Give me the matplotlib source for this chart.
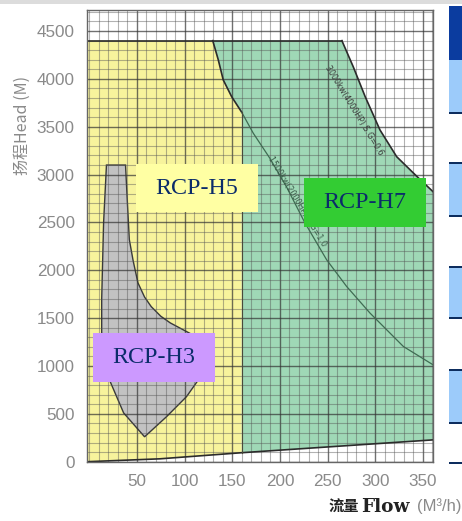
import matplotlib
matplotlib.use('Agg')
import matplotlib.pyplot as plt
from matplotlib.patches import Rectangle, Polygon
from matplotlib.ticker import MultipleLocator

plt.rcParams['font.family'] = ['Liberation Sans', 'Noto Sans CJK SC', 'DejaVu Sans']

W, H = 462, 521

# ---------------- data ----------------
x_ticks = [50, 100, 150, 200, 250, 300, 350]
y_ticks = [0, 500, 1000, 1500, 2000, 2500, 3000, 3500, 4000, 4500]
XMIN, XMAX = -2.1, 360.6
YMIN, YMAX = 0, 4720

head_limit = 4400          # max head of H5 / H7
h5_flow_max = 160          # boundary between H5 and H7

# lower boundary (min head line)
bottom_flow = [XMIN, 74, 160, XMAX]
bottom_head = [0, 30, 94, 228]

# 1500kW(2000HP) S.G=1.0 power line
c1500_flow = [129.5, 135.3, 140.5, 149.3, 160, 172, 189.5, 207, 226, 249, 270, 294.5, 329.5, XMAX]
c1500_head = [4400, 4200, 3990, 3815, 3650, 3433, 3170, 2870, 2500, 2110, 1831, 1553, 1204, 1013]

# 3000kW(4000HP) S.G=0.6 power line
c3000_flow = [265, 277, 289.5, 305, 322.5, 344, XMAX]
c3000_head = [4400, 4125, 3813, 3466, 3187, 2978, 2822]

# RCP-H3 envelope (closed outline)
h3_flow = [18, 38, 40, 42, 46, 51, 58, 65, 75, 85, 102, 115, 124, 120, 113, 102, 81, 58,
           36, 22, 16, 13, 13, 14, 15]
h3_head = [3100, 3100, 2700, 2320, 2100, 1870, 1720, 1620, 1520, 1450, 1360, 1290, 1180, 1000,
           835, 680, 470, 260, 510, 835, 1100, 1350, 1700, 2100, 2500]

# model labels: name, box (x0, x1, y0, y1) in data units, colour
labels = ['RCP-H5', 'RCP-H7', 'RCP-H3']
label_boxes = [(49, 177, 2606, 3109), (225, 353, 2456, 2961), (4, 132, 836, 1342)]
label_colors = ['#ffffa3', '#33cc33', '#cc99ff']

# ---------------- figure ----------------
fig = plt.figure(figsize=(W / 100, H / 100), dpi=100)
fig.patch.set_facecolor('white')
ax = fig.add_axes([87.3 / W, 1 - 461.7 / H, (433 - 87.3) / W, (461.7 - 10) / H])
ax.set_xlim(XMIN, XMAX)
ax.set_ylim(YMIN, YMAX)

# regions
yellow = list(zip(bottom_flow[:3], bottom_head[:3]))
yellow += [(c1500_flow[i], c1500_head[i]) for i in range(4, -1, -1)]
yellow += [(XMIN, head_limit)]
ax.add_patch(Polygon(yellow, closed=True, facecolor='#f7f39c', edgecolor='none', zorder=1))

green = [(bottom_flow[2], bottom_head[2]), (bottom_flow[3], bottom_head[3])]
green += [(c3000_flow[i], c3000_head[i]) for i in range(len(c3000_flow) - 1, -1, -1)]
green += [(c1500_flow[i], c1500_head[i]) for i in range(0, 5)]
ax.add_patch(Polygon(green, closed=True, facecolor='#9fd8b6', edgecolor='none', zorder=1))

ax.add_patch(Polygon(list(zip(h3_flow, h3_head)), closed=True, facecolor='#c2c2c2',
                     edgecolor='#3a3a3a', linewidth=1.0, zorder=1.5))

# boundary lines
ax.plot(bottom_flow, bottom_head, color='#2b2b2b', lw=1.2, zorder=3)
ax.plot([XMIN, c3000_flow[0]], [head_limit, head_limit], color='#2b2b2b', lw=1.2, zorder=3)
ax.plot(c1500_flow[:5], c1500_head[:5], color='#2b2b2b', lw=1.2, zorder=3)
ax.plot(c1500_flow[4:], c1500_head[4:], color='#3f6b52', lw=0.9, zorder=3)
ax.plot(c3000_flow, c3000_head, color='#2b2b2b', lw=1.2, zorder=3)
ax.plot([h5_flow_max, h5_flow_max], [bottom_head[2], c1500_head[4]], color='#4a4a3a', lw=0.8, zorder=3)

# curve annotations
ax.text(278, 3670, '3000kw(4000HP) S.G=0.6', rotation=-58.5, rotation_mode='anchor',
        ha='center', va='center', fontsize=5.8, color='#3a3a3a', family='DejaVu Sans', zorder=3)
ax.text(218, 2720, '1500kw(2000HP) S.G=1.0', rotation=-58.5, rotation_mode='anchor',
        ha='center', va='center', fontsize=5.8, color='#3a5a48', family='DejaVu Sans', zorder=3)

# grid
ax.xaxis.set_minor_locator(MultipleLocator(10))
ax.yaxis.set_minor_locator(MultipleLocator(100))
ax.set_xticks(x_ticks)
ax.set_yticks(y_ticks)
ax.grid(which='minor', color='#555555', alpha=0.45, lw=0.8, zorder=2)
ax.grid(which='major', color='#333333', alpha=0.7, lw=1.0, zorder=2)
ax.set_axisbelow(False)
for gl in ax.get_xgridlines() + ax.get_ygridlines():
    gl.set_zorder(2)
ax.tick_params(which='both', length=0)
ax.tick_params(axis='x', pad=9, labelsize=12.3, labelcolor='#8a8a8a')
ax.tick_params(axis='y', pad=9, labelsize=12.3, labelcolor='#8a8a8a')
for s in ax.spines.values():
    s.set_color('#666666')
    s.set_linewidth(1.0)
    s.set_zorder(6)

# model label boxes
for name, (x0, x1, y0, y1), col in zip(labels, label_boxes, label_colors):
    ax.add_patch(Rectangle((x0, y0), x1 - x0, y1 - y0, facecolor=col, edgecolor='none', zorder=4))
    ax.text((x0 + x1) / 2, (y0 + y1) / 2, name, ha='center', va='center', fontsize=17.3,
            family='Liberation Serif', color='#0b2c6a', zorder=5)

# axis titles
fig.text(329 / W, 1 - 507 / H, '流量', ha='left', va='center', fontsize=11,
         fontweight='bold', color='#222222', family=['Noto Sans CJK SC'])
fig.text(361 / W, 1 - 507 / H, 'Flow', ha='left', va='center', fontsize=13.3,
         fontweight='bold', color='#222222', family='DejaVu Serif')
fig.text(461 / W, 1 - 506 / H, '(M³/h)', ha='right', va='center', fontsize=12,
         color='#8a8a8a', family='Liberation Sans')
fig.text(22 / W, 1 - 125 / H, '扬程Head (M)', rotation=90, ha='center', va='center',
         fontsize=11.5, color='#8a8a8a', family=['Noto Sans CJK SC', 'DejaVu Sans'])

# right-side decoration strip
def fig_rect(x0, y0, x1, y1, col):
    fig.patches.append(Rectangle((x0 / W, 1 - y1 / H), (x1 - x0) / W, (y1 - y0) / H,
                                 transform=fig.transFigure, facecolor=col, edgecolor='none'))

fig_rect(0, 0, W, 4, '#dcdcdc')
fig_rect(449, 6, W, 60, '#0b3c9f')
for top, bot in [(60, 113), (163, 216), (267, 318), (370, 423)]:
    fig_rect(449, top, W, bot, '#9ccbfa')
for yline in [113, 163, 216, 267, 318, 370, 423, 463]:
    fig_rect(449, yline - 1.2, W, yline + 1.2, '#0d2d5e')

fig.savefig('out.png', dpi=100)
